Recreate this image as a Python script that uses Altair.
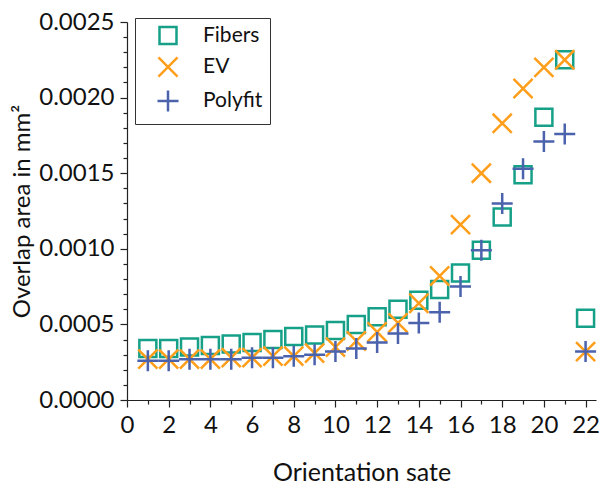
import altair as alt
import pandas as pd

states = list(range(1, 23))
fibers = [0.00034, 0.00034, 0.00035, 0.00036, 0.00037, 0.00038, 0.00040, 0.00042, 0.00043, 0.00046,
          0.00050, 0.00055, 0.00060, 0.00066, 0.00073, 0.00084, 0.00099, 0.00121, 0.00149, 0.00187,
          0.00225, 0.00054]
ev = [0.00027, 0.00027, 0.00027, 0.00027, 0.00028, 0.00028, 0.00029, 0.00029, 0.00031, 0.00035,
      0.00039, 0.00045, 0.00051, 0.00064, 0.00082, 0.00116, 0.00150, 0.00183, 0.00206, 0.00220,
      0.00225, 0.00032]
polyfit = [0.00026, 0.00026, 0.00027, 0.00027, 0.00027, 0.00028, 0.00028, 0.00029, 0.00030, 0.00032,
           0.00034, 0.00038, 0.00044, 0.00051, 0.00058, 0.00075, 0.00099, 0.00130, 0.00153, 0.00171,
           0.00176, 0.00032]
series_names = ["Fibers", "EV", "Polyfit"]

rows = []
for name, vals in zip(series_names, [fibers, ev, polyfit]):
    for s, v in zip(states, vals):
        rows.append({"state": s, "area": v, "series": name})
df = pd.DataFrame(rows)

FONT = "Lato"
X_SHAPE = "M-1,-1L1,1M-1,1L1,-1"
PLUS_SHAPE = "M-1,0L1,0M0,-1L0,1"

chart = alt.Chart(df).mark_point(filled=False, strokeWidth=2.5, opacity=1).encode(
    x=alt.X("state:Q", scale=alt.Scale(domain=[0, 22.5], nice=False),
            axis=alt.Axis(title="Orientation sate", values=list(range(0, 23)),
                          labelExpr="datum.value % 2 === 0 ? datum.label : ''",
                          tickSize={"condition": {"test": "datum.value % 2 === 0", "value": 7}, "value": 4},
                          grid=False, format="d", labelPadding=6, titlePadding=23, labelFlush=False)),
    y=alt.Y("area:Q", scale=alt.Scale(domain=[0, 0.0025], nice=False),
            axis=alt.Axis(title="Overlap area in mm²", values=[round(i * 0.0001, 4) for i in range(26)],
                          labelExpr="round(datum.value*10000) % 5 === 0 ? format(datum.value, '.4f') : ''",
                          tickSize={"condition": {"test": "round(datum.value*10000) % 5 === 0", "value": 7}, "value": 4},
                          grid=False, labelPadding=6, titlePadding=4, titleFontSize=24, labelFlush=False)),
    color=alt.Color("series:N", scale=alt.Scale(domain=series_names, range=["#16a088", "#ff9e1b", "#4b62ad"]),
                    legend=alt.Legend(title=None, orient="none", legendX=8, legendY=-4,
                                      strokeColor="#333", padding=7, rowPadding=3,
                                      symbolOffset=14, labelOffset=23,
                                      labelFontSize=21, labelFont=FONT, labelColor="#111",
                                      symbolStrokeWidth=2.5, symbolFillColor="transparent")),
    shape=alt.Shape("series:N", scale=alt.Scale(domain=series_names, range=["square", X_SHAPE, PLUS_SHAPE]),
                    legend=alt.Legend(title=None)),
    size=alt.Size("series:N", scale=alt.Scale(domain=series_names, range=[289, 441, 340]),
                  legend=alt.Legend(title=None)),
).properties(
    width=469, height=378,
    autosize=alt.AutoSizeParams(type="none"),
    padding={"left": 119, "top": 14, "right": 3, "bottom": 85},
).configure_axis(
    domainColor="#222", tickColor="#222", domainWidth=1.2, tickWidth=1.2,
    labelFont=FONT, labelFontSize=24, labelColor="#111",
    titleFont=FONT, titleFontSize=25, titleFontWeight="normal", titleColor="#111",
).configure_view(stroke=None)

chart.save("out.html", embed_options={"renderer": "svg", "actions": False})
